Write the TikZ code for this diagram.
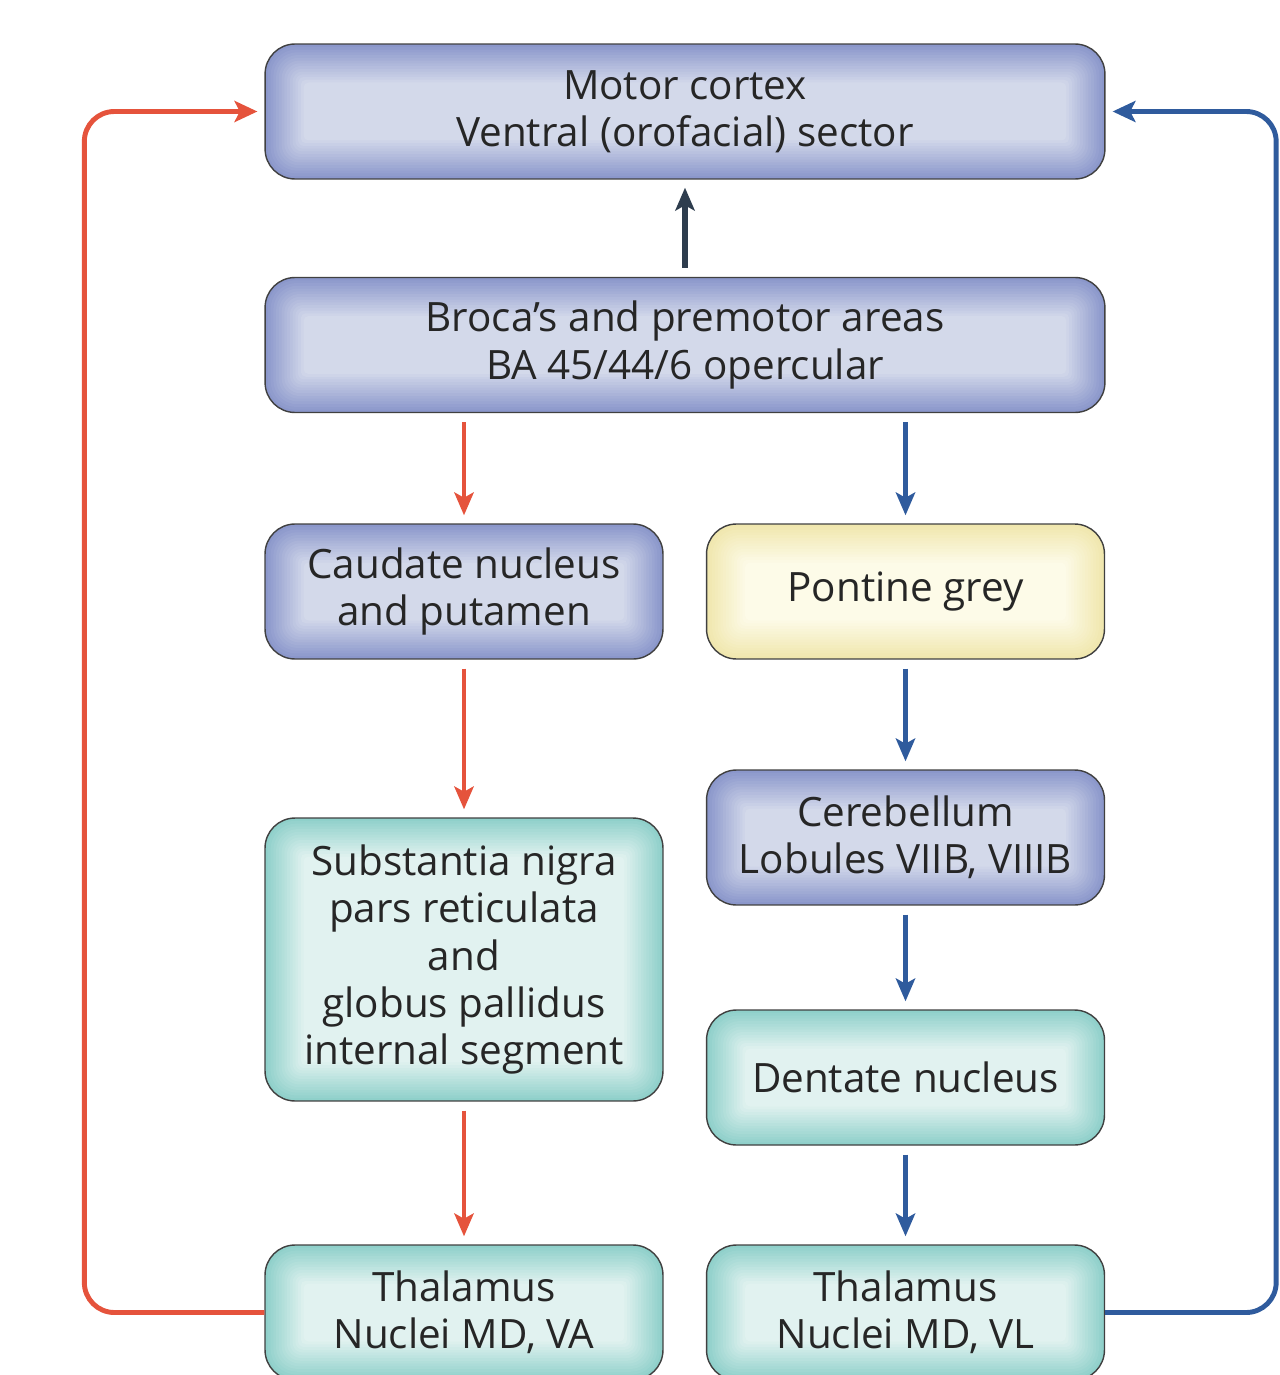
\documentclass[tikz,border=0pt]{standalone}
\usepackage{fontspec}
\setmainfont{Open Sans}
\usetikzlibrary{arrows.meta, positioning, calc}

\definecolor{bluebox}{HTML}{8B97CB}
\definecolor{bluemid}{HTML}{D4DAEB}
\definecolor{tealbox}{HTML}{8FD0CA}
\definecolor{tealmid}{HTML}{E3F3F1}
\definecolor{yelbox}{HTML}{F0E7AE}
\definecolor{yelmid}{HTML}{FDFBE9}
\definecolor{redline}{HTML}{E5533C}
\definecolor{blueline}{HTML}{2F5B9D}
\definecolor{darkline}{HTML}{2E3D4E}

% soft inner glow: edge colour fading to a light middle
\newcommand{\glowfill}[2]{%
  \foreach \k [evaluate=\k as \p using {int(100-\k*7)},
               evaluate=\k as \d using {\k*0.055},
               evaluate=\k as \r using {max(0.6-\k*0.04,0.1)}] in {0,...,14}{%
    \fill[draw=none, #1!\p!#2, rounded corners=\r cm]
      ($(path picture bounding box.south west)+(\d cm,\d cm)$) rectangle
      ($(path picture bounding box.north east)-(\d cm,\d cm)$);
  }%
}

\begin{document}
\begin{tikzpicture}[
  x=0.02cm, y=-0.02cm,
  font=\fontsize{23}{27}\selectfont,
  box/.style={draw=black!75, line width=0.8pt, rounded corners=0.6cm, minimum width=7.96cm, minimum height=2.7cm, align=center, inner sep=4pt, text=black!85},
  wide/.style={box, minimum width=16.8cm},
  cortex/.style={path picture={\glowfill{bluebox}{bluemid}}},
  relay/.style={path picture={\glowfill{tealbox}{tealmid}}},
  pons/.style={path picture={\glowfill{yelbox}{yelmid}}},
  arrow/.style={-{Stealth[length=13pt, width=11pt, inset=3pt]}, line width=2.4pt, shorten <=0.18cm, shorten >=0.16cm},
  redarrow/.style={arrow, draw=redline},
  bluearrow/.style={arrow, draw=blueline},
  loop/.style={-{Stealth[length=13pt, width=12pt, inset=3pt]}, line width=2.8pt, rounded corners=0.6cm, shorten >=0.14cm}
]
\useasboundingbox (0,0) rectangle (1279,1375);

% Top: cortex
\node[wide, cortex] (motor) at (685,111.5) {Motor cortex\\Ventral (orofacial) sector};
\node[wide, cortex] (broca) at (685,345) {Broca's and premotor areas\\BA 45/44/6 opercular};

% Left column: basal ganglia
\node[box, cortex] (caud) at (464,591.5) {Caudate nucleus\\and putamen};
\node[box, relay, minimum height=5.66cm] (snr) at (464,959.5)
  {Substantia nigra\\pars reticulata\\and\\globus pallidus\\internal segment};
\node[box, relay] (thalL) at (464,1312.5) {Thalamus\\Nuclei MD, VA};

% Right column: cerebellum
\node[box, pons] (pont) at (905.5,591.5) {Pontine grey};
\node[box, cortex] (cereb) at (905.5,837.5) {Cerebellum\\Lobules VIIB, VIIIB};
\node[box, relay] (dent) at (905.5,1077.5) {Dentate nucleus};
\node[box, relay] (thalR) at (905.5,1312.5) {Thalamus\\Nuclei MD, VL};

% Arrows
\draw[arrow, draw=darkline, line width=3.4pt] (broca) -- (motor);
\draw[redarrow] (broca.south -| caud) -- (caud);
\draw[redarrow] (caud) -- (snr);
\draw[redarrow] (snr) -- (thalL);
\draw[bluearrow] (broca.south -| pont) -- (pont);
\draw[bluearrow] (pont) -- (cereb);
\draw[bluearrow] (cereb) -- (dent);
\draw[bluearrow] (dent) -- (thalR);

% Loops back to motor cortex
\draw[loop, draw=redline] (thalL.west) -- ++(-180,0) |- (motor.west);
\draw[loop, draw=blueline] (thalR.east) -- ++(171,0) |- (motor.east);

\end{tikzpicture}
\end{document}
